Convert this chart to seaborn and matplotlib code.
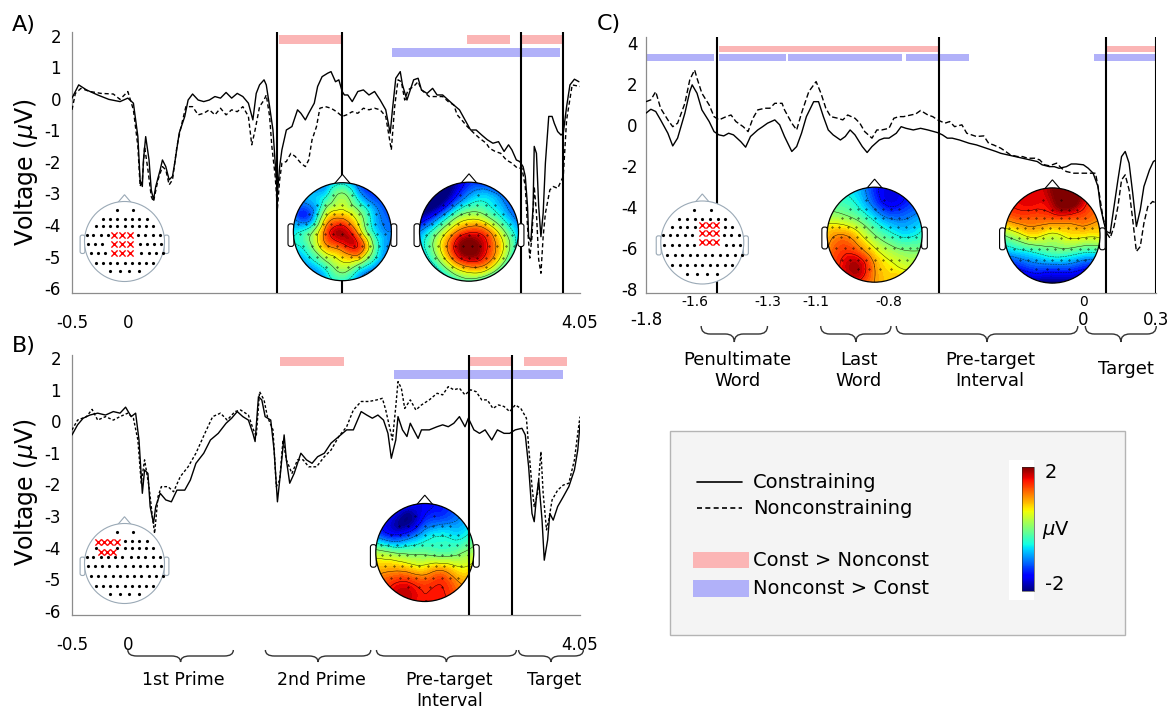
import numpy as np
import matplotlib
matplotlib.use('Agg')
import matplotlib.pyplot as plt
import matplotlib.tri as mtri
from matplotlib.patches import Circle, Polygon, FancyBboxPatch, Rectangle, PathPatch
from matplotlib.path import Path
from matplotlib.cm import ScalarMappable
from matplotlib.colors import Normalize
import seaborn as sns

sns.set_style('white')
plt.rcParams['font.family'] = ['DejaVu Sans']
plt.rcParams['mathtext.fontset'] = 'dejavusans'
plt.rcParams['text.color'] = 'black'
plt.rcParams['xtick.labelcolor'] = 'black'
plt.rcParams['ytick.labelcolor'] = 'black'

W, H = 1176, 712

# ---- grand average waveforms: (time s, voltage uV) ----
a_const = [(-0.50, 0.02), (-0.44, 0.44), (-0.37, 0.28), (-0.27, 0.12), (-0.17, -0.02), (-0.07, -0.09), (0.00, 0.02),
           (0.05, -0.14), (0.09, -1.20), (0.11, -2.57), (0.13, -2.78), (0.14, -1.94), (0.16, -1.20), (0.19, -1.94),
           (0.21, -2.89), (0.23, -3.20), (0.25, -2.78), (0.29, -2.25), (0.31, -1.94), (0.34, -2.15), (0.37, -2.57),
           (0.40, -2.46), (0.42, -2.04), (0.46, -1.09), (0.51, -0.56), (0.54, -0.04), (0.58, 0.15), (0.63, -0.04),
           (0.68, -0.09), (0.73, -0.04), (0.78, 0.07), (0.83, 0.02), (0.88, 0.20), (0.93, 0.02), (0.98, 0.17),
           (1.03, 0.07), (1.08, -0.14), (1.12, -0.67), (1.15, 0.17), (1.18, 0.44), (1.22, 0.60), (1.24, 0.44),
           (1.27, -0.25), (1.30, -0.99), (1.32, -2.04), (1.34, -2.99), (1.36, -2.15), (1.38, -1.62), (1.42, -0.99),
           (1.47, -0.88), (1.52, -0.35), (1.55, -0.46), (1.59, -0.67), (1.62, -0.46), (1.67, -0.14), (1.70, 0.39),
           (1.74, 0.70), (1.79, 0.81), (1.82, 0.86), (1.86, 0.54), (1.89, 0.60), (1.92, 0.23), (1.94, 0.12),
           (1.97, 0.12), (2.01, -0.09), (2.06, 0.23), (2.11, 0.28), (2.16, 0.12), (2.21, 0.23), (2.26, -0.04),
           (2.31, -0.35), (2.35, -1.09), (2.37, -0.35), (2.40, 0.65), (2.44, 0.86), (2.46, 0.44), (2.50, -0.04),
           (2.53, 0.28), (2.56, 0.60), (2.60, 0.65), (2.63, 0.28), (2.68, 0.17), (2.73, 0.33), (2.77, 0.12),
           (2.82, 0.12), (2.87, -0.04), (2.92, -0.20), (2.97, -0.35), (3.02, -0.67), (3.07, -0.99), (3.12, -0.99),
           (3.17, -1.15), (3.22, -1.30), (3.27, -1.41), (3.32, -1.36), (3.37, -1.67), (3.41, -1.46), (3.44, -1.62),
           (3.48, -1.94), (3.51, -1.99), (3.54, -2.15), (3.56, -2.46), (3.58, -3.41), (3.59, -4.37), (3.61, -4.52),
           (3.63, -3.41), (3.64, -1.51), (3.66, -1.73), (3.68, -3.41), (3.70, -4.37), (3.72, -3.63), (3.74, -2.04),
           (3.77, -0.56), (3.80, -0.56), (3.82, -0.78), (3.85, -1.04), (3.88, -1.15), (3.90, -1.09), (3.93, -0.25),
           (3.96, 0.44), (4.00, 0.62), (4.04, 0.54)]
a_nonconst = [(-0.50, -0.35), (-0.47, 0.17), (-0.42, 0.33), (-0.34, 0.23), (-0.24, 0.17), (-0.13, 0.15), (-0.07, -0.02),
              (0.00, 0.23), (0.05, -0.35), (0.09, -1.51), (0.11, -2.78), (0.13, -2.57), (0.15, -1.51), (0.18, -2.25),
              (0.21, -3.10), (0.23, -3.26), (0.27, -2.57), (0.31, -2.15), (0.34, -2.25), (0.37, -2.73), (0.40, -2.57),
              (0.44, -1.51), (0.47, -0.99), (0.52, -0.25), (0.58, -0.25), (0.63, -0.51), (0.68, -0.46), (0.73, -0.35),
              (0.78, -0.51), (0.83, -0.30), (0.88, -0.51), (0.93, -0.35), (0.98, -0.41), (1.03, -0.25), (1.08, -0.56),
              (1.11, -1.46), (1.14, -0.99), (1.18, -0.25), (1.22, -0.04), (1.24, 0.12), (1.27, -0.56), (1.29, -1.51),
              (1.32, -2.46), (1.34, -3.47), (1.36, -2.57), (1.38, -2.04), (1.42, -1.99), (1.46, -1.73), (1.50, -1.83),
              (1.55, -2.04), (1.59, -2.15), (1.62, -1.94), (1.65, -1.30), (1.69, -0.88), (1.72, -0.30), (1.77, -0.25),
              (1.82, -0.30), (1.87, -0.41), (1.92, -0.56), (1.96, -0.51), (2.01, -0.41), (2.06, -0.46), (2.11, -0.30),
              (2.16, -0.35), (2.21, -0.30), (2.26, -0.35), (2.31, -0.56), (2.35, -1.41), (2.36, -1.62), (2.39, -0.25),
              (2.42, 0.60), (2.45, 0.54), (2.48, -0.04), (2.51, 0.28), (2.56, 0.39), (2.60, 0.54), (2.63, 0.28),
              (2.70, 0.07), (2.77, 0.07), (2.82, 0.07), (2.87, -0.09), (2.92, -0.20), (2.95, -0.51), (2.99, -0.67),
              (3.04, -0.88), (3.10, -1.09), (3.15, -1.25), (3.21, -1.41), (3.24, -1.57), (3.29, -1.67), (3.34, -1.73),
              (3.39, -1.94), (3.44, -2.04), (3.49, -2.20), (3.53, -2.20), (3.56, -2.78), (3.58, -4.05), (3.60, -5.05),
              (3.62, -4.37), (3.64, -2.78), (3.66, -3.63), (3.68, -5.10), (3.70, -5.53), (3.72, -4.37), (3.74, -3.63),
              (3.78, -2.89), (3.81, -2.78), (3.85, -2.84), (3.90, -2.46), (3.93, -0.67), (3.98, 0.44), (4.05, 0.39)]

b_const = [(-0.50, -0.43), (-0.45, -0.11), (-0.40, 0.10), (-0.34, 0.20), (-0.27, 0.26), (-0.20, 0.20), (-0.13, 0.31),
           (-0.07, 0.26), (-0.02, 0.45), (0.03, 0.15), (0.07, 0.26), (0.10, -0.59), (0.13, -2.28), (0.15, -1.54),
           (0.18, -1.65), (0.20, -2.70), (0.23, -3.23), (0.25, -2.70), (0.29, -2.28), (0.34, -2.49), (0.39, -2.55),
           (0.44, -2.18), (0.51, -2.18), (0.56, -1.86), (0.61, -1.33), (0.68, -1.01), (0.74, -0.59), (0.81, -0.38),
           (0.88, -0.06), (0.93, 0.10), (0.98, 0.31), (1.03, 0.15), (1.08, 0.04), (1.12, -0.38), (1.14, -0.64),
           (1.17, 0.78), (1.20, 0.68), (1.23, 0.15), (1.28, 0.04), (1.31, -0.91), (1.34, -2.55), (1.37, -1.54),
           (1.40, -0.43), (1.42, -1.22), (1.45, -1.96), (1.49, -1.65), (1.52, -1.33), (1.55, -1.01), (1.60, -1.22),
           (1.65, -1.33), (1.70, -1.12), (1.76, -1.01), (1.82, -0.69), (1.89, -0.48), (1.96, -0.27), (2.02, -0.27),
           (2.09, 0.31), (2.14, 0.20), (2.19, 0.10), (2.24, 0.20), (2.29, 0.04), (2.33, -0.38), (2.36, -1.17),
           (2.40, -0.59), (2.42, 0.15), (2.46, -0.27), (2.50, -0.48), (2.53, -0.06), (2.56, -0.27), (2.60, -0.54),
           (2.63, -0.27), (2.70, -0.27), (2.77, -0.17), (2.82, -0.11), (2.87, -0.17), (2.92, -0.06), (2.97, 0.15),
           (3.02, -0.17), (3.05, 0.10), (3.10, -0.27), (3.15, -0.38), (3.20, -0.27), (3.26, -0.59), (3.31, -0.27),
           (3.37, -0.38), (3.42, -0.38), (3.47, -0.27), (3.53, -0.22), (3.56, -0.43), (3.59, -1.44), (3.62, -2.92),
           (3.64, -3.18), (3.66, -2.39), (3.68, -1.86), (3.71, -3.13), (3.73, -4.40), (3.76, -3.76), (3.78, -2.92),
           (3.81, -3.13), (3.85, -2.70), (3.90, -2.39), (3.95, -2.07), (4.00, -1.54), (4.03, -0.91), (4.05, -0.10)]
b_nonconst = [(-0.50, -0.27), (-0.45, 0.04), (-0.37, 0.15), (-0.32, 0.38), (-0.27, 0.04), (-0.20, 0.15), (-0.13, 0.04),
              (-0.07, 0.15), (0.00, 0.26), (0.05, 0.10), (0.09, -0.59), (0.12, -1.96), (0.15, -1.22), (0.19, -2.07),
              (0.22, -3.02), (0.24, -3.55), (0.27, -2.39), (0.30, -2.07), (0.36, -2.07), (0.41, -2.23), (0.47, -1.75),
              (0.54, -1.44), (0.61, -1.01), (0.69, -0.38), (0.76, 0.15), (0.83, 0.26), (0.89, 0.04), (0.96, 0.31),
              (1.01, 0.36), (1.08, 0.20), (1.12, -0.22), (1.15, -0.48), (1.18, 0.94), (1.22, 0.68), (1.25, 0.15),
              (1.30, -0.27), (1.33, -2.07), (1.36, -1.86), (1.39, -0.59), (1.42, -1.22), (1.47, -1.65), (1.52, -1.22),
              (1.57, -1.22), (1.62, -1.44), (1.69, -1.44), (1.76, -1.12), (1.82, -0.91), (1.89, -0.48), (1.96, -0.17),
              (2.02, 0.36), (2.09, 0.63), (2.16, 0.63), (2.23, 0.68), (2.28, 0.73), (2.31, 0.36), (2.35, -0.27),
              (2.37, -0.59), (2.40, 0.47), (2.42, 1.26), (2.45, 1.05), (2.48, 0.41), (2.53, 0.68), (2.58, 0.36),
              (2.63, 0.52), (2.70, 0.68), (2.77, 0.89), (2.82, 0.84), (2.87, 1.10), (2.92, 1.00), (2.97, 1.05),
              (3.02, 0.84), (3.07, 1.00), (3.12, 0.94), (3.17, 0.68), (3.22, 0.68), (3.27, 0.41), (3.32, 0.52),
              (3.37, 0.47), (3.42, 0.31), (3.47, 0.52), (3.52, 0.41), (3.57, 0.10), (3.59, -0.80), (3.62, -2.07),
              (3.64, -2.70), (3.67, -2.28), (3.70, -0.96), (3.72, -2.28), (3.75, -3.44), (3.77, -3.13), (3.80, -2.49),
              (3.85, -2.18), (3.90, -2.02), (3.95, -1.96), (4.00, -1.22), (4.03, -0.38), (4.05, 0.15)]

c_const = [(-1.80, 0.59), (-1.78, 0.78), (-1.76, 0.67), (-1.74, 0.26), (-1.71, -0.39), (-1.69, -1.01), (-1.67, -0.63),
           (-1.64, 0.59), (-1.62, 1.64), (-1.61, 1.97), (-1.59, 1.56), (-1.57, 0.75), (-1.54, 0.18), (-1.52, -0.31),
           (-1.50, -0.47), (-1.48, -0.52), (-1.46, -0.39), (-1.44, -0.47), (-1.41, -0.80), (-1.39, -1.07),
           (-1.37, -0.55), (-1.34, -0.23), (-1.32, -0.07), (-1.30, 0.10), (-1.27, 0.26), (-1.25, 0.02), (-1.23, -0.55),
           (-1.20, -1.28), (-1.18, -1.04), (-1.16, -0.39), (-1.14, 0.42), (-1.11, 1.15), (-1.09, 1.15), (-1.07, 0.42),
           (-1.05, -0.23), (-1.03, -0.47), (-1.00, -0.72), (-0.98, -0.55), (-0.96, -0.23), (-0.94, -0.47),
           (-0.91, -1.04), (-0.89, -1.33), (-0.87, -1.04), (-0.84, -0.72), (-0.82, -0.63), (-0.80, -0.63),
           (-0.77, -0.39), (-0.75, -0.07), (-0.73, -0.15), (-0.70, -0.23), (-0.67, -0.15), (-0.64, -0.23),
           (-0.60, -0.36), (-0.58, -0.47), (-0.56, -0.63), (-0.54, -0.63), (-0.51, -0.72), (-0.49, -0.80),
           (-0.47, -0.88), (-0.44, -0.96), (-0.40, -1.12), (-0.38, -1.20), (-0.36, -1.28), (-0.34, -1.37),
           (-0.31, -1.45), (-0.28, -1.53), (-0.25, -1.61), (-0.22, -1.69), (-0.19, -1.77), (-0.17, -1.93),
           (-0.14, -2.02), (-0.12, -2.02), (-0.10, -2.10), (-0.07, -2.02), (-0.05, -1.89), (-0.03, -1.89),
           (0.00, -1.93), (0.02, -2.10), (0.04, -2.34), (0.06, -2.99), (0.07, -3.97), (0.085, -4.78), (0.096, -5.19),
           (0.11, -5.27), (0.126, -3.97), (0.142, -2.67), (0.157, -1.53), (0.172, -1.28), (0.188, -1.85),
           (0.203, -3.32), (0.218, -4.94), (0.234, -4.13), (0.249, -2.99), (0.272, -2.18), (0.288, -1.77), (0.30, -1.69)]
c_nonconst = [(-1.80, 1.15), (-1.78, 1.24), (-1.76, 1.64), (-1.74, 0.83), (-1.71, 0.26), (-1.69, -0.07), (-1.67, 0.10),
              (-1.64, 1.07), (-1.62, 2.21), (-1.60, 2.70), (-1.59, 2.29), (-1.57, 1.56), (-1.54, 0.99), (-1.52, 0.42),
              (-1.50, 0.26), (-1.47, 0.42), (-1.45, 0.50), (-1.43, 0.18), (-1.40, -0.07), (-1.38, -0.31),
              (-1.36, 0.34), (-1.34, 0.75), (-1.31, 0.83), (-1.29, 0.83), (-1.27, 1.07), (-1.24, 1.07), (-1.23, 0.75),
              (-1.20, 0.10), (-1.18, -0.23), (-1.16, 0.59), (-1.13, 1.64), (-1.10, 2.13), (-1.08, 1.56), (-1.06, 0.83),
              (-1.04, 0.42), (-1.01, 0.34), (-0.99, 0.26), (-0.97, 0.50), (-0.94, 0.34), (-0.92, 0.10), (-0.90, -0.31),
              (-0.87, -0.63), (-0.85, -0.23), (-0.83, -0.23), (-0.80, -0.15), (-0.78, 0.34), (-0.76, 0.42),
              (-0.74, 0.42), (-0.71, 0.50), (-0.69, 0.55), (-0.67, 0.72), (-0.64, 0.50), (-0.62, 0.42), (-0.60, 0.26),
              (-0.57, 0.10), (-0.55, 0.18), (-0.53, -0.07), (-0.50, 0.02), (-0.48, -0.39), (-0.46, -0.47),
              (-0.44, -0.55), (-0.41, -0.52), (-0.39, -0.88), (-0.37, -0.96), (-0.34, -1.12), (-0.32, -1.28),
              (-0.30, -1.45), (-0.27, -1.53), (-0.25, -1.53), (-0.23, -1.61), (-0.20, -1.61), (-0.18, -1.69),
              (-0.16, -1.93), (-0.14, -1.98), (-0.11, -1.85), (-0.09, -2.10), (-0.07, -2.26), (-0.04, -2.34),
              (-0.02, -2.34), (0.00, -2.34), (0.03, -2.34), (0.05, -2.34), (0.065, -3.32), (0.08, -4.46),
              (0.096, -5.27), (0.11, -5.51), (0.126, -4.94), (0.142, -3.97), (0.157, -2.67), (0.172, -2.42),
              (0.188, -3.15), (0.203, -4.62), (0.218, -6.16), (0.234, -5.92), (0.249, -4.78), (0.265, -3.97),
              (0.285, -3.72), (0.30, -3.80)]

# ---- significance bars (start, end) in s ----
a_pink = [(1.35, 1.92), (3.04, 3.42), (3.52, 3.90)]
a_blue = [(2.37, 3.87)]
b_pink = [(1.36, 1.94), (3.06, 3.44), (3.55, 3.93)]
b_blue = [(2.385, 3.90)]
c_pink = [(-1.50, -0.60), (0.095, 0.30)]
c_blue = [(-1.80, -1.52), (-1.50, -1.223), (-1.215, -0.746), (-0.73, -0.472), (0.042, 0.30)]

# ---- topography windows (event lines) ----
a_lines = [1.34, 1.92, 3.525, 3.90]
b_lines = [3.06, 3.44]
c_lines = [-1.507, -0.594, 0.095, 0.30]

# ---- ticks ----
a_ticks = [-0.5, 0, 0.96, 1.19, 2.2, 3.42, 4.05]
b_ticks = [-0.5, 0, 0.96, 1.21, 2.22, 3.47, 4.05]
ab_ticklabels = ['-0.5', '0', '', '', '', '', '4.05']
ab_yticks = [2, 1, 0, -1, -2, -3, -4, -5, -6]
c_yticks = [4, 2, 0, -2, -4, -6, -8]
c_small_ticks = [-1.6, -1.3, -1.1, -0.8, 0, 0.22]
c_small_labels = ['-1.6', '-1.3', '-1.1', '-0.8', '0', '']
c_big_ticks = [-1.8, 0, 0.3]
c_big_labels = ['-1.8', '0', '0.3']

# ---- epoch braces ----
b_brace_spans = [(0.0, 0.945), (1.232, 2.176), (2.227, 3.48), (3.50, 4.08)]
b_brace_labels = ['1st Prime', '2nd Prime', 'Pre-target\nInterval', 'Target']
c_brace_spans = [(-1.573, -1.30), (-1.081, -0.792), (-0.770, -0.023), (0.008, 0.30)]
c_brace_labels = ['Penultimate\nWord', 'Last\nWord', 'Pre-target\nInterval', 'Target']

# ---- scalp maps (uV, 7x7 grid, rows top->bottom) ----
topo_a1 = [[-2.0, -1.6, -1.0, -0.6, -1.2, -1.8, -2.0],
           [-1.4, -0.8, -0.4, 0.2, -0.6, -1.2, -1.6],
           [-1.0, -1.2, 0.4, 0.8, 0.2, -0.8, -1.2],
           [-0.6, -0.2, 1.2, 1.8, 0.8, -0.6, -1.0],
           [-0.6, -0.2, 0.8, 1.2, 1.4, -0.2, -1.0],
           [-1.2, -0.8, -0.2, 0.4, 0.0, -0.8, -1.4],
           [-2.0, -1.6, -0.8, -0.4, -1.0, -1.6, -2.0]]
topo_a2 = [[-2.4, -2.4, -2.0, -1.4, -1.4, -1.8, -2.2],
           [-2.4, -2.4, -1.6, -0.8, -0.6, -1.0, -1.6],
           [-2.0, -1.4, -0.4, 0.2, 0.0, -0.6, -1.2],
           [-1.0, -0.2, 0.8, 1.4, 1.2, 0.2, -0.8],
           [-0.8, 0.2, 1.4, 2.2, 1.6, 0.6, -0.8],
           [-1.2, -0.4, 0.6, 1.2, 1.0, 0.0, -1.2],
           [-1.8, -1.2, -0.6, -0.2, -0.6, -1.2, -1.8]]
topo_b = [[-1.2, -1.2, -1.4, -1.6, -1.4, -1.2, -1.0],
          [-1.4, -1.7, -2.0, -1.4, -1.2, -1.0, -0.8],
          [-1.0, -1.4, -1.2, -0.7, -0.5, -0.6, -0.3],
          [0.2, 0.0, -0.1, -0.1, -0.2, -0.1, 0.2],
          [0.8, 0.9, 0.8, 0.7, 0.9, 0.6, 0.7],
          [1.2, 1.5, 1.6, 1.4, 1.5, 1.1, 1.0],
          [1.3, 1.6, 1.7, 1.5, 1.6, 1.3, 1.2]]
topo_c1 = [[-0.4, -0.6, -0.8, -1.4, -1.6, -1.4, -1.2],
           [-0.2, -0.3, -0.6, -1.2, -1.6, -1.4, -1.2],
           [0.3, 0.2, -0.1, -0.6, -1.0, -1.0, -0.8],
           [0.8, 1.0, 0.6, 0.0, -0.4, -0.6, -0.4],
           [1.0, 1.4, 1.2, 0.6, 0.2, 0.0, 0.0],
           [1.2, 1.6, 1.8, 1.0, 0.6, 0.4, 0.4],
           [1.0, 1.4, 1.4, 1.0, 0.8, 1.0, 0.8]]
topo_c2 = [[1.4, 1.6, 1.6, 2.0, 2.4, 1.8, 1.4],
           [1.4, 1.6, 1.6, 1.8, 2.2, 1.6, 1.4],
           [1.0, 1.2, 1.2, 1.2, 1.2, 1.2, 1.0],
           [0.0, 0.4, 0.6, 0.4, 0.6, 0.6, 0.6],
           [-0.8, -0.6, -0.4, -0.2, -0.2, -0.4, -0.4],
           [-1.6, -1.4, -1.2, -1.2, -1.2, -1.4, -1.4],
           [-2.0, -2.0, -2.0, -2.0, -2.0, -2.0, -2.0]]

# ---- electrode montage (rows) and analysed sites ----
elec_v = [0.78, 0.57, 0.38, 0.17, -0.06, -0.30, -0.55, -0.75]
elec_u = [[-0.20, 0.20],
          [-0.55, -0.37, -0.18, 0.0, 0.18, 0.37, 0.55],
          [-0.72, -0.54, -0.36, -0.18, 0.0, 0.18, 0.36, 0.54, 0.72],
          [-0.95, -0.78, -0.60, -0.42, -0.24, -0.06, 0.15, 0.34, 0.52, 0.70, 0.88],
          [-0.92, -0.74, -0.56, -0.38, -0.20, 0.0, 0.20, 0.38, 0.56, 0.74, 0.92],
          [-0.85, -0.66, -0.48, -0.30, -0.12, 0.06, 0.24, 0.42, 0.60, 0.78, 0.95],
          [-0.72, -0.54, -0.36, -0.18, 0.0, 0.18, 0.36, 0.54, 0.72],
          [-0.36, -0.12, 0.12, 0.36]]
sites_a = [(-0.26, 0.17), (-0.06, 0.17), (0.14, 0.17), (-0.26, -0.06), (-0.06, -0.06), (0.14, -0.06),
           (-0.26, -0.30), (-0.06, -0.30), (0.14, -0.30)]
sites_b = [(-0.66, 0.55), (-0.51, 0.55), (-0.36, 0.55), (-0.20, 0.55), (-0.58, 0.30), (-0.43, 0.30), (-0.28, 0.30)]
sites_c = [(0.0, 0.42), (0.17, 0.42), (0.34, 0.42), (0.0, 0.22), (0.17, 0.22), (0.34, 0.22),
           (0.0, 0.02), (0.17, 0.02), (0.34, 0.02)]

PINK = '#fbb5b5'
BLUE = '#b1b1f9'
GREY = '#8c8c8c'

fig = plt.figure(figsize=(W / 100, H / 100), dpi=100)


def px_axes(x0, y0, x1, y1, **kw):
    return fig.add_axes([x0 / W, 1 - y1 / H, (x1 - x0) / W, (y1 - y0) / H], **kw)


def style_panel(ax, yticks):
    ax.patch.set_alpha(0)
    for s in ['top', 'right']:
        ax.spines[s].set_visible(False)
    for s in ['left', 'bottom']:
        ax.spines[s].set_color(GREY)
        ax.spines[s].set_linewidth(0.9)
    ax.set_yticks(yticks)
    ax.set_yticklabels([str(v) for v in yticks])
    ax.tick_params(axis='both', direction='in', length=5, width=0.9, color=GREY, labelsize=12)
    ax.tick_params(axis='y', pad=8)


def draw_wave(ax, pts, ls):
    arr = np.array(pts)
    sns.lineplot(x=arr[:, 0], y=arr[:, 1], ax=ax, color='black', linewidth=1.0,
                 linestyle=ls, estimator=None, sort=False, zorder=4)
    ax.set_xlabel('')
    ax.set_ylabel('')


def draw_bars(ax, spans, y0, y1, color):
    starts = [s for s, e in spans]
    widths = [e - s for s, e in spans]
    ax.barh(y=[(y0 + y1) / 2] * len(spans), width=widths, left=starts, height=y1 - y0,
            color=color, edgecolor='none', zorder=2)


# ---------------- Panel A ----------------
axA = px_axes(72, 32.5, 580, 292.8)
style_panel(axA, ab_yticks)
draw_bars(axA, a_pink, 1.73, 2.02, PINK)
draw_bars(axA, a_blue, 1.31, 1.62, BLUE)
draw_wave(axA, a_const, '-')
draw_wave(axA, a_nonconst, (0, (3, 2)))
for t in a_lines:
    axA.axvline(t, color='black', lw=1.5, zorder=5)
axA.set_xticks(a_ticks)
axA.set_xticklabels(ab_ticklabels)
axA.tick_params(axis='x', pad=15)
axA.set_xlim(-0.5, 4.05)
axA.set_ylim(-6.15, 2.1)

# ---------------- Panel B ----------------
axB = px_axes(72, 355.1, 580, 615.4, zorder=3)
style_panel(axB, ab_yticks)
draw_bars(axB, b_pink, 1.76, 2.05, PINK)
draw_bars(axB, b_blue, 1.34, 1.63, BLUE)
draw_wave(axB, b_const, '-')
draw_wave(axB, b_nonconst, (0, (2, 1.5)))
for t in b_lines:
    axB.axvline(t, color='black', lw=1.5, zorder=5)
axB.set_xticks(b_ticks)
axB.set_xticklabels(ab_ticklabels)
axB.tick_params(axis='x', pad=15)
axB.set_xlim(-0.5, 4.05)
axB.set_ylim(-6.15, 2.1)

# ---------------- Panel C ----------------
axC = px_axes(646, 36.7, 1156.3, 293.3)
style_panel(axC, c_yticks)
axC.tick_params(axis='y', pad=6)
draw_bars(axC, c_pink, 3.56, 3.87, PINK)
draw_bars(axC, c_blue, 3.15, 3.46, BLUE)
draw_wave(axC, c_const, '-')
draw_wave(axC, c_nonconst, (0, (4, 2)))
for t in c_lines:
    axC.axvline(t, color='black', lw=1.5, zorder=5)
axC.xaxis.remove_overlapping_locs = False
axC.set_xticks(c_small_ticks)
axC.set_xticklabels(c_small_labels)
axC.set_xticks(c_big_ticks, minor=True)
axC.set_xticklabels(c_big_labels, minor=True)
axC.tick_params(axis='x', which='major', labelsize=10, pad=1.5)
axC.tick_params(axis='x', which='minor', length=0, labelsize=12, pad=12.5)
axC.set_xlim(-1.8, 0.3)
axC.set_ylim(-8.2, 4.32)

# ---------------- heads ----------------
grid = np.linspace(-1, 1, 7)
gx, gy = np.meshgrid(grid, grid[::-1])
triang = mtri.Triangulation(gx.ravel(), gy.ravel())
refiner = mtri.UniformTriRefiner(triang)


def head_axes(cx, cy, r, **kw):
    ax = px_axes(cx - 1.25 * r, cy - 1.35 * r, cx + 1.25 * r, cy + 1.15 * r, **kw)
    ax.set_xlim(-1.25, 1.25)
    ax.set_ylim(-1.15, 1.35)
    ax.axis('off')
    return ax


def head_parts(ax, color, lw):
    ax.add_patch(Polygon([(-0.17, 0.97), (0, 1.17), (0.17, 0.97)], closed=True,
                         fc='white', ec=color, lw=lw, zorder=1))
    for x0 in (-1.11, 0.99):
        ax.add_patch(FancyBboxPatch((x0, -0.3), 0.12, 0.46, boxstyle='round,pad=0,rounding_size=0.05',
                                    fc='white', ec=color, lw=lw, zorder=1))


def montage_points(scale=1.0):
    us, vs = [], []
    for v, row in zip(elec_v, elec_u):
        for u in row:
            us.append(u * scale)
            vs.append(v * scale)
    return np.array(us), np.array(vs)


def draw_topo(cx, cy, r, vals, **kw):
    ax = head_axes(cx, cy, r, **kw)
    head_parts(ax, 'black', 0.8)
    z = np.array(vals, dtype=float).ravel()
    tri_f, z_f = refiner.refine_field(z, subdiv=4)
    clip = Circle((0, 0), 1, transform=ax.transData)
    cf = ax.tricontourf(tri_f, z_f, levels=np.linspace(-2.6, 2.6, 53), cmap='jet',
                        norm=Normalize(-2, 2), extend='both', zorder=2)
    cf.set_clip_path(clip)
    cl = ax.tricontour(tri_f, z_f, levels=[-1.5, -1, -0.5, 0, 0.5, 1, 1.5], colors='black',
                       linewidths=0.35, alpha=0.8, zorder=3)
    cl.set_clip_path(clip)
    us, vs = montage_points(0.95)
    ax.scatter(us, vs, s=0.12, color='black', zorder=4)
    ax.add_patch(Circle((0, 0), 1, fill=False, ec='black', lw=0.9, zorder=5))


def draw_montage(cx, cy, r, sites):
    ax = head_axes(cx, cy, r)
    head_parts(ax, '#9aa9b6', 0.8)
    ax.add_patch(Circle((0, 0), 1, fc='white', ec='#9aa9b6', lw=0.8, zorder=2))
    us, vs = montage_points()
    su = np.array([s[0] for s in sites])
    sv = np.array([s[1] for s in sites])
    keep = np.array([np.min(np.hypot(su - u, sv - v)) > 0.12 for u, v in zip(us, vs)])
    ax.scatter(us[keep], vs[keep], s=1.6, color='black', zorder=3)
    ax.scatter(su, sv, marker='x', s=20, linewidths=1.0, color='red', zorder=4)


draw_montage(124.5, 241.5, 40, sites_a)
draw_topo(342.4, 231.7, 49, topo_a1)
draw_topo(469, 231.7, 49.5, topo_a2)
draw_montage(124.5, 563.5, 40, sites_b)
draw_topo(424.8, 552.5, 49, topo_b, zorder=1)
draw_montage(702.3, 242.5, 41.5, sites_c)
draw_topo(874.6, 234.7, 47.5, topo_c1)
draw_topo(1052.4, 235.5, 47.6, topo_c2)

# ---------------- overlay: labels, braces, legend ----------------
ov = fig.add_axes([0, 0, 1, 1], zorder=10)
ov.set_xlim(0, W)
ov.set_ylim(H, 0)
ov.axis('off')
ov.patch.set_alpha(0)

ov.text(24, 25, 'A)', fontsize=16, ha='center', va='center')
ov.text(24, 346, 'B)', fontsize=16, ha='center', va='center')
ov.text(609, 24, 'C)', fontsize=16, ha='center', va='center')
ov.text(26, 172, 'Voltage ($\\mu$V)', fontsize=17, rotation=90, ha='center', va='center')
ov.text(26, 492, 'Voltage ($\\mu$V)', fontsize=17, rotation=90, ha='center', va='center')


def brace(x0, x1, ytop, depth):
    xm = (x0 + x1) / 2
    r = min(9, (x1 - x0) / 4)
    ym = ytop + depth * 0.5
    yb = ytop + depth
    verts = [(x0, ytop), (x0, ym), (x0 + r, ym), (xm - r, ym), (xm, ym), (xm, yb),
             (xm, ym), (xm + r, ym), (x1 - r, ym), (x1, ym), (x1, ytop)]
    codes = [Path.MOVETO, Path.CURVE3, Path.CURVE3, Path.LINETO, Path.CURVE3, Path.CURVE3,
             Path.CURVE3, Path.CURVE3, Path.LINETO, Path.CURVE3, Path.CURVE3]
    ov.add_patch(PathPatch(Path(verts, codes), fc='none', ec='#333333', lw=1.0))
    return xm


def to_px(ax, t):
    return ax.transData.transform((t, 0))[0]


for (s, e), lab in zip(b_brace_spans, b_brace_labels):
    xm = brace(to_px(axB, s), to_px(axB, e), 650, 12)
    ov.text(xm + 3, 671, lab, fontsize=12.5, ha='center', va='top', linespacing=1.22)

for (s, e), lab in zip(c_brace_spans, c_brace_labels):
    xm = brace(to_px(axC, s), to_px(axC, e), 326, 16)
    if '\n' in lab:
        ov.text(xm + 3, 351, lab, fontsize=13, ha='center', va='top', linespacing=1.2)
    else:
        ov.text(xm + 5, 369, lab, fontsize=13, ha='center', va='center')

# legend box
ov.add_patch(Rectangle((670, 430.7), 455.2, 204.3, fc='#f4f4f4', ec='#b4b4b4', lw=1.0))
ov.plot([697, 742], [482, 482], color='black', lw=1.2)
ov.plot([697, 742], [508, 508], color='black', lw=1.2, linestyle=(0, (3, 2)))
ov.text(753, 482, 'Constraining', fontsize=14, va='center')
ov.text(753, 508, 'Nonconstraining', fontsize=14, va='center')
ov.add_patch(Rectangle((692.6, 551.7), 56.4, 16.6, fc=PINK, ec='none'))
ov.add_patch(Rectangle((692.6, 580), 56.4, 17.3, fc=BLUE, ec='none'))
ov.text(753, 560, 'Const > Nonconst', fontsize=14, va='center')
ov.text(753, 588.5, 'Nonconst > Const', fontsize=14, va='center')
ov.add_patch(Rectangle((1009, 460), 25, 140, fc='white', ec='none'))
ov.text(1051, 473, '2', fontsize=14, ha='center', va='center')
ov.text(1056, 530, '$\\mu$V', fontsize=14, ha='center', va='center')
ov.text(1055, 585, '-2', fontsize=14, ha='center', va='center')

cax = px_axes(1021.5, 466.7, 1033.7, 590.7, zorder=12)
cb = fig.colorbar(ScalarMappable(norm=Normalize(-2, 2), cmap='jet'), cax=cax)
cb.set_ticks([])
cb.outline.set_linewidth(0.4)

fig.savefig('out.png', dpi=100)
